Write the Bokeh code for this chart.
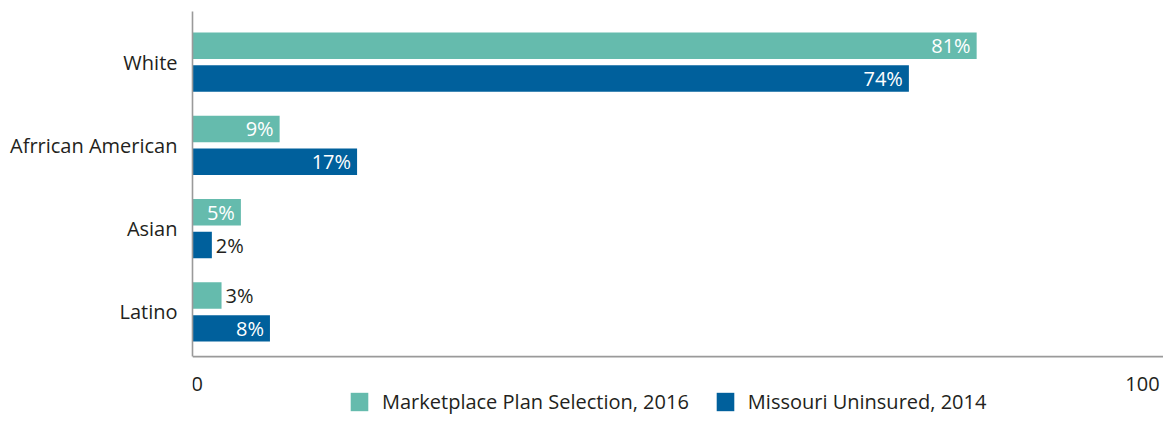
from bokeh.plotting import figure
from bokeh.models import ColumnDataSource, Range1d, FixedTicker, Legend, LegendItem, Span
from bokeh.transform import dodge
from bokeh.core.properties import value
from bokeh.embed import file_html
from bokeh.resources import INLINE

categories = ["White", "Afrrican American", "Asian", "Latino"]
marketplace_2016 = [81, 9, 5, 3]
uninsured_2014 = [74, 17, 2, 8]
series_names = ["Marketplace Plan Selection, 2016", "Missouri Uninsured, 2014"]
x_ticks = [0, 100]
x_tick_labels = ["0", "100"]

TEAL = "#65BBAD"
BLUE = "#00609C"
TXT = "#231f20"
AXIS = "#9a9a9a"
FONT = "Open Sans"
FS = "20px"

n = len(categories)
ypos = [n - 1 - i for i in range(n)]

# vertical geometry (data units, ~83 px per category)
Y_TOP = 3.607
Y_AXIS = -0.536
Y_BOTTOM = -1.255
PX = 83.3  # pixels per y unit

def src(vals):
    inside = [v >= 5 for v in vals]
    return ColumnDataSource(dict(
        y=ypos, v=vals,
        lbl=[f"{v}%" for v in vals],
        xoff=[-6 if i else 4 for i in inside],
        align=["right" if i else "left" for i in inside],
        color=["white" if i else TXT for i in inside],
    ))

s1 = src(marketplace_2016)
s2 = src(uninsured_2014)

p = figure(width=1163, height=416, output_backend="svg", toolbar_location=None,
           x_range=Range1d(0, 100.3), y_range=Range1d(Y_BOTTOM, Y_TOP),
           min_border_left=192, min_border_right=0, min_border_top=11, min_border_bottom=0)
p.outline_line_color = None
p.grid.visible = False
p.background_fill_color = "white"
p.border_fill_color = "white"

off = 0.197
bh = 0.318
r1 = p.hbar(y=dodge("y", off, range=p.y_range), right="v", left=0, height=bh, source=s1,
            fill_color=TEAL, line_color=None)
r2 = p.hbar(y=dodge("y", -off, range=p.y_range), right="v", left=0, height=bh, source=s2,
            fill_color=BLUE, line_color=None)

for s, o in ((s1, off), (s2, -off)):
    p.text(x="v", y=dodge("y", o, range=p.y_range), text="lbl", x_offset="xoff",
           text_align="align", text_baseline="middle", text_color="color",
           text_font=value(FONT), text_font_size=FS, source=s)

# y axis (category labels + line limited to the plot area)
p.yaxis.ticker = FixedTicker(ticks=ypos)
p.yaxis.major_label_overrides = {y: c for y, c in zip(ypos, categories)}
p.yaxis.major_tick_line_color = None
p.yaxis.minor_tick_line_color = None
p.yaxis.major_label_standoff = 9
p.yaxis.major_label_text_font = FONT
p.yaxis.major_label_text_font_size = FS
p.yaxis.major_label_text_color = TXT
p.yaxis.axis_line_color = AXIS
p.yaxis.axis_line_width = 1.6
p.yaxis.bounds = (Y_AXIS, Y_TOP)

# x axis: drawn as a line, end labels as text
p.xaxis.visible = False
p.add_layout(Span(location=Y_AXIS, dimension="width", line_color=AXIS, line_width=1.6))
xl = ColumnDataSource(dict(x=x_ticks, t=x_tick_labels,
                           align=["left", "right"], xoff=[-1, -1]))
p.text(x="x", y=Y_AXIS - 27 / PX, text="t", text_align="align", x_offset="xoff",
       text_baseline="alphabetic", text_color=TXT, text_font=value(FONT),
       text_font_size=FS, source=xl)

legend = Legend(items=[LegendItem(label=series_names[0], renderers=[r1]),
                       LegendItem(label=series_names[1], renderers=[r2])],
                orientation="horizontal", location=(156, 1),
                glyph_width=22, glyph_height=23, label_standoff=12, spacing=25,
                label_text_font=FONT, label_text_font_size=FS, label_text_color=TXT,
                border_line_color=None, background_fill_alpha=0, padding=0, margin=0)
p.add_layout(legend, "center")

open("out.html", "w").write(file_html(p, INLINE))
